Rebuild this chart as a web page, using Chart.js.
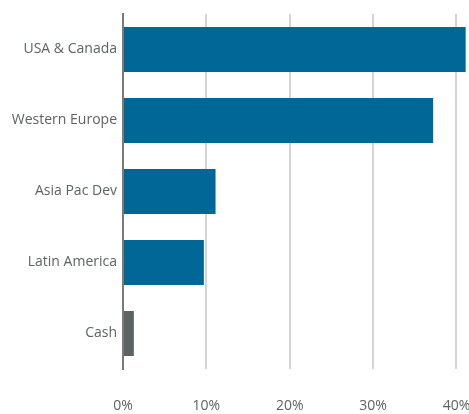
<!DOCTYPE html>
<html lang="en">
<head>
  <meta charset="UTF-8">
  <title>Regional Allocation</title>
  <script src="https://cdn.jsdelivr.net/npm/chart.js"></script>
  <style>
    html, body { margin: 0; padding: 0; background: #fff; overflow: hidden; }
    #wrap { width: 469px; height: 414px; }
  </style>
</head>
<body>
  <div id="wrap"><canvas id="allocChart"></canvas></div>

  <script>
    // Data
    const regions = ['USA & Canada', 'Western Europe', 'Asia Pac Dev', 'Latin America', 'Cash'];
    const weights = [41.1, 37.2, 11.1, 9.7, 1.3];
    const barColors = ['#006796', '#006796', '#006796', '#006796', '#5b6462'];
    const xTicks = [0, 10, 20, 30, 40];

    const textColor = '#5b6462';

    new Chart(document.getElementById('allocChart'), {
      type: 'bar',
      data: {
        labels: regions,
        datasets: [{
          data: weights,
          backgroundColor: barColors,
          barPercentage: 1,
          categoryPercentage: 0.634
        }]
      },
      options: {
        indexAxis: 'y',
        responsive: true,
        maintainAspectRatio: false,
        animation: false,
        layout: { padding: { top: 14, left: 0, right: 0, bottom: 0 } },
        plugins: { legend: { display: false }, tooltip: { enabled: false } },
        scales: {
          x: {
            min: 0,
            max: 41.5,
            afterBuildTicks: scale => { scale.ticks = xTicks.map(v => ({ value: v })); },
            // keep the plot running to the right edge, like the original
            afterFit: scale => {
              scale.height = 45;
              scale.paddingLeft = 0;
              scale.paddingRight = 0;
            },
            grid: { color: '#d4d4d4', lineWidth: 2, drawTicks: false },
            border: { display: false },
            ticks: {
              padding: 29,
              color: textColor,
              font: { family: 'Open Sans', size: 14 },
              callback: v => v + '%'
            }
          },
          y: {
            afterFit: scale => {
              scale.width = 123;
              scale.paddingTop = 0;
              scale.paddingBottom = 0;
            },
            grid: { display: false, drawTicks: false },
            border: { display: true, color: '#7a7a7a', width: 2 },
            ticks: {
              padding: 6,
              color: textColor,
              font: { family: 'Open Sans', size: 14 }
            }
          }
        }
      }
    });
  </script>
</body>
</html>
